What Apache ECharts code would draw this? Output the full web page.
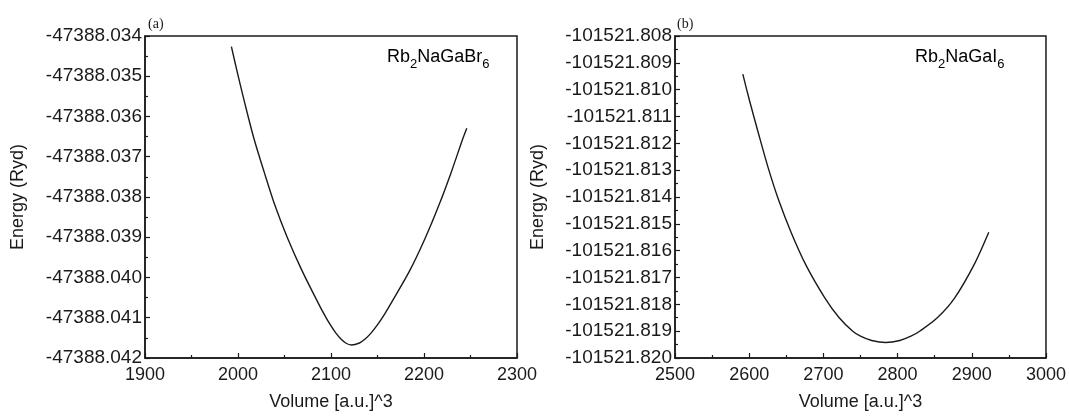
<!DOCTYPE html>
<html>
<head>
<meta charset="utf-8">
<script src="https://cdn.jsdelivr.net/npm/echarts@6/dist/echarts.min.js"></script>
<style>html,body{margin:0;padding:0;background:#fff}#c{width:1069px;height:416px}</style>
</head>
<body>
<div id="c"></div>
<script>
// Panel (a) Rb2NaGaBr6
const volA = [1992.9, 1999.4, 2008.0, 2017.2, 2028.0, 2039.4, 2053.0, 2068.7, 2086.4, 2093.3, 2099.5, 2105.3, 2110.7, 2115.8, 2121.8, 2130.6, 2136.7, 2143.0, 2149.7, 2156.8, 2164.5, 2184.8, 2201.6, 2216.3, 2229.5, 2241.7, 2246.0];
const energyA = [-47388.034262, -47388.034916, -47388.035734, -47388.036552, -47388.037370, -47388.038188, -47388.039006, -47388.039824, -47388.040642, -47388.040940, -47388.041185, -47388.041382, -47388.041529, -47388.041627, -47388.041676, -47388.041627, -47388.041529, -47388.041382, -47388.041185, -47388.040940, -47388.040642, -47388.039824, -47388.039006, -47388.038188, -47388.037370, -47388.036552, -47388.036290];
// Panel (b) Rb2NaGaI6
const volB = [2591.4, 2600.4, 2612.5, 2625.0, 2639.3, 2656.4, 2676.5, 2702.1, 2721.3, 2739.2, 2750.0, 2765.0, 2784.0, 2803.0, 2818.0, 2830.2, 2853.5, 2876.8, 2902.8, 2922.9];
const energyB = [-101521.809423, -101521.810405, -101521.811632, -101521.812858, -101521.814085, -101521.815312, -101521.816539, -101521.817766, -101521.818502, -101521.818993, -101521.819189, -101521.819347, -101521.819421, -101521.819347, -101521.819189, -101521.818993, -101521.818502, -101521.817766, -101521.816539, -101521.815312];

const xRangeA = [1900, 2300];
const yRangeA = [-47388.042, -47388.034];
const xRangeB = [2500, 3000];
const yRangeB = [-101521.820, -101521.808];

const chart = echarts.init(document.getElementById('c'));
const FONT = 'Liberation Sans';
const INK = '#1a1a1a';
const axisLine = {show: true, lineStyle: {color: INK, width: 1.5}};

function xAxis(idx, range) {
  return {
    type: 'value', gridIndex: idx, min: range[0], max: range[1], interval: 100,
    name: 'Volume [a.u.]^3', nameLocation: 'middle', nameGap: 35,
    nameTextStyle: {fontFamily: FONT, fontSize: 18, color: INK},
    axisLine: axisLine,
    axisTick: {show: true, inside: true, length: 5, lineStyle: {color: INK, width: 1.2}},
    minorTick: {show: true, splitNumber: 2, length: 3, lineStyle: {color: INK, width: 1.2}},
    axisLabel: {fontFamily: FONT, fontSize: 18, color: INK, margin: 8, formatter: v => String(v)},
    splitLine: {show: false}
  };
}
function yAxis(idx, range, gap) {
  return {
    type: 'value', gridIndex: idx, min: range[0], max: range[1], interval: 0.001,
    name: 'Energy (Ryd)', nameLocation: 'middle', nameGap: gap,
    nameTextStyle: {fontFamily: FONT, fontSize: 18, color: INK},
    axisLine: axisLine,
    axisTick: {show: true, inside: true, length: 5, lineStyle: {color: INK, width: 1.2}},
    minorTick: {show: true, splitNumber: 2, length: 3, lineStyle: {color: INK, width: 1.2}},
    axisLabel: {fontFamily: FONT, fontSize: 19, color: INK, margin: 3, formatter: v => v.toFixed(3)},
    splitLine: {show: false}
  };
}
function pairs(xs, ys) { return xs.map((x, i) => [x, ys[i]]); }

const rich = {
  m: {fontFamily: FONT, fontSize: 18, color: INK, lineHeight: 28},
  s: {fontFamily: FONT, fontSize: 13, color: INK, lineHeight: 28, verticalAlign: 'bottom'}
};

chart.setOption({
  animation: false,
  backgroundColor: '#fff',
  grid: [
    {left: 145, right: 552, top: 36, bottom: 54, show: true, borderColor: INK, borderWidth: 1.5, backgroundColor: 'transparent'},
    {left: 675, right: 22, top: 36, bottom: 54, show: true, borderColor: INK, borderWidth: 1.5, backgroundColor: 'transparent'}
  ],
  xAxis: [xAxis(0, xRangeA), xAxis(1, xRangeB)],
  yAxis: [yAxis(0, yRangeA, 118), yAxis(1, yRangeB, 128)],
  series: [
    {type: 'line', xAxisIndex: 0, yAxisIndex: 0, data: pairs(volA, energyA), smooth: 0.3, showSymbol: false,
     lineStyle: {color: INK, width: 1.4}},
    {type: 'line', xAxisIndex: 1, yAxisIndex: 1, data: pairs(volB, energyB), smooth: 0.3, showSymbol: false,
     lineStyle: {color: INK, width: 1.4}}
  ],
  graphic: [
    {type: 'text', left: 148, top: 17, style: {text: '(a)', font: '14px "Liberation Serif"', fill: INK}},
    {type: 'text', left: 677, top: 17, style: {text: '(b)', font: '14px "Liberation Serif"', fill: INK}},
    {type: 'text', left: 387, top: 48, style: {text: '{m|Rb}{s|2}{m|NaGaBr}{s|6}', rich: rich}},
    {type: 'text', left: 915, top: 48, style: {text: '{m|Rb}{s|2}{m|NaGaI}{s|6}', rich: rich}}
  ]
});
</script>
</body>
</html>
